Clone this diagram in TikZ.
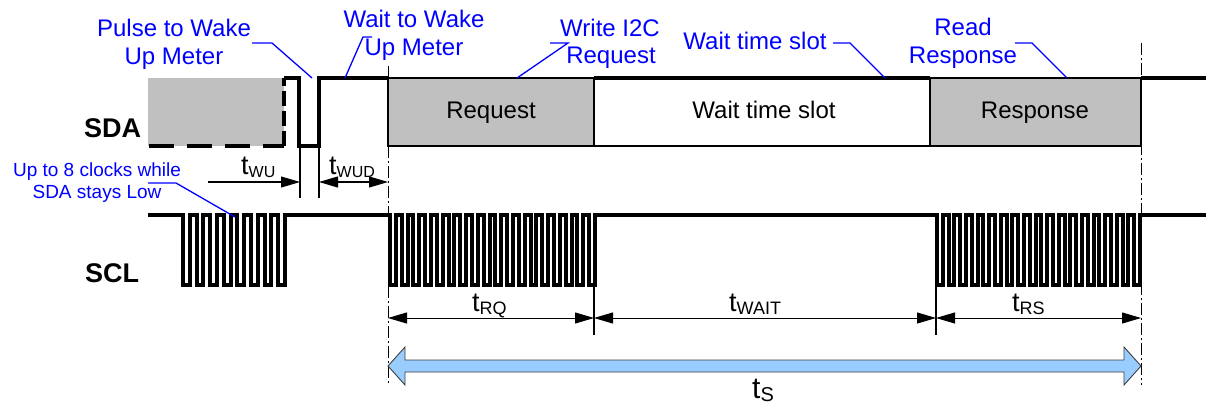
\documentclass[tikz,border=0pt]{standalone}
\usepackage{fontspec}
\setmainfont{Liberation Sans}
\usetikzlibrary{arrows.meta}
\definecolor{lbl}{RGB}{0,0,255}
\definecolor{boxgray}{RGB}{192,192,192}
\definecolor{arrowblue}{RGB}{153,204,255}
\begin{document}
\begin{tikzpicture}[x=1pt,y=-1pt,
  sig/.style={line width=4pt},
  clk/.style={line width=4pt},
  hair/.style={line width=1.2pt},
  leader/.style={draw=lbl,line width=1.3pt},
  lab/.style={text=lbl,font=\fontsize{24}{28}\selectfont,inner sep=0pt,anchor=base},
  labs/.style={text=lbl,font=\fontsize{19}{22}\selectfont,inner sep=0pt,anchor=base},
  boxt/.style={font=\fontsize{24}{28}\selectfont,inner sep=0pt,anchor=base},
  sigl/.style={font=\fontsize{27}{30}\selectfont\bfseries,inner sep=0pt,anchor=base west},
  tl/.style={inner sep=0pt,anchor=base west},
  dimr/.style={line width=1pt,-{Triangle[length=19pt,width=11pt]}},
  dimb/.style={line width=1pt,{Triangle[length=19pt,width=11pt]}-{Triangle[length=19pt,width=11pt]}},
  dashdot/.style={line width=1pt,dash pattern=on 12pt off 3pt on 2pt off 3pt}]
\useasboundingbox (0,0) rectangle (1206,406);

% ---------- SDA ----------
\fill[boxgray] (148,78) rectangle (284,146);
\draw[sig,dash pattern=on 25pt off 13pt] (149,146) -- (284,146);
\draw[sig,dash pattern=on 15pt off 5pt] (284,146) -- (284,78);
\draw[sig,line join=miter] (284,78) -- (299,78) -- (299,146) -- (319,146) -- (319,78) -- (388,78);
\draw[hair,fill=boxgray] (388,78) rectangle (594,146);
\draw[hair,fill=white] (594,78) rectangle (930,146);
\draw[hair,fill=boxgray] (930,78) rectangle (1141,146);
\draw[sig] (594,78) -- (930,78);
\draw[sig] (1141,78) -- (1206,78);

\node[boxt] (rq) at (491,119) {Request};
\node[boxt] (ws) at (764,119) {Wait time slot};
\node[boxt] (rs) at (1035,119) {Response};

\node[sigl] (sda) at (84,138) {SDA};
\node[sigl] (scl) at (85,282) {SCL};

% ---------- SCL ----------
\draw[clk,line join=miter] (148,215) -- (183,215)
  \foreach \i in {1,...,8} { -- ++(0,70) -- ++(6.8,0) -- ++(0,-70) -- ++(6.8,0) }
  -- (390,215)
  \foreach \i in {1,...,18} { -- ++(0,70) -- ++(5.857,0) -- ++(0,-70) -- ++(5.857,0) }
  -- (937,215)
  \foreach \i in {1,...,18} { -- ++(0,70) -- ++(5.8,0) -- ++(0,-70) -- ++(5.8,0) }
  -- (1206,215);

% ---------- reference lines ----------
\draw[dashdot] (388,66) -- (388,385);
\draw[dashdot] (1141,43) -- (1141,385);
\draw[hair] (300,146) -- (300,198);
\draw[hair] (319,146) -- (319,198);
\draw[hair] (594,286) -- (594,335);
\draw[hair] (936,286) -- (936,335);

% ---------- dimensions ----------
\coordinate (wu0) at (208,182);
\coordinate (wu1) at (300,182);
\coordinate (wud1) at (388,182);
\draw[dimr] (wu0) -- (wu1);
\draw[dimb] (319,182) -- (wud1);
\node[tl] (twu) at (241,175) {\fontsize{27}{27}\selectfont t\fontsize{16}{16}\selectfont\raisebox{-3pt}{WU}};
\node[tl] (twud) at (329,175) {\fontsize{27}{27}\selectfont t\fontsize{16}{16}\selectfont\raisebox{-3pt}{WUD}};

\coordinate (d0) at (388,318);
\coordinate (d1) at (594,318);
\coordinate (d2) at (936,318);
\coordinate (d3) at (1141,318);
\draw[dimb] (d0) -- (d1);
\draw[dimb] (d1) -- (d2);
\draw[dimb] (d2) -- (d3);
\node[tl] (trq) at (472,311) {\fontsize{27}{27}\selectfont t\fontsize{18}{18}\selectfont\raisebox{-3pt}{RQ}};
\node[tl] (twait) at (729,311) {\fontsize{27}{27}\selectfont t\fontsize{18}{18}\selectfont\raisebox{-3pt}{WAIT}};
\node[tl] (trs) at (1012,311) {\fontsize{27}{27}\selectfont t\fontsize{18}{18}\selectfont\raisebox{-3pt}{RS}};

% ---------- big arrow ----------
\draw[line width=0.9pt,draw=black!75,fill=arrowblue,line join=miter]
  (388,366) -- (405,347) -- (405,360) -- (1124,360) -- (1124,347) -- (1141,366)
  -- (1124,385) -- (1124,372) -- (405,372) -- (405,385) -- cycle;
\node[tl] (ts) at (752,398) {\fontsize{30}{30}\selectfont t\fontsize{20}{20}\selectfont\raisebox{-3pt}{S}};

% ---------- blue labels ----------
\node[lab] (pw1) at (174,37) {Pulse to Wake};
\node[lab] (pw2) at (174,65) {Up Meter};
\node[lab] (ww1) at (414,28) {Wait to Wake};
\node[lab] (ww2) at (414,56) {Up Meter};
\node[lab] (wi1) at (610,37) {Write I2C};
\node[lab] (wi2) at (611,64) {Request};
\node[lab] (wt) at (755,50) {Wait time slot};
\node[lab] (rr1) at (963,36) {Read};
\node[lab] (rr2) at (963,64) {Response};
\node[labs] (uc1) at (97,176) {Up to 8 clocks while};
\node[labs] (uc2) at (97,198) {SDA stays Low};

\coordinate (pwa) at (252,43);  \coordinate (pwb) at (312,78);
\coordinate (wwa) at (372,37);  \coordinate (wwb) at (345,78);
\coordinate (wia) at (550,43);  \coordinate (wib) at (517,78);
\coordinate (wta) at (833,43);  \coordinate (wtb) at (885,78);
\coordinate (rra) at (1015,43); \coordinate (rrb) at (1067,78);
\coordinate (uca) at (148,183); \coordinate (ucb) at (235,217);
\draw[leader] (pwa) -- ++(20,0) -- (pwb);
\draw[leader] (wwa) -- ++(-9,0) -- (wwb);
\draw[leader] (wia) -- ++(18,0) -- (wib);
\draw[leader] (wta) -- ++(17,0) -- (wtb);
\draw[leader] (rra) -- ++(17,0) -- (rrb);
\draw[leader] (uca) -- ++(28,0) -- (ucb);
\end{tikzpicture}
\end{document}
